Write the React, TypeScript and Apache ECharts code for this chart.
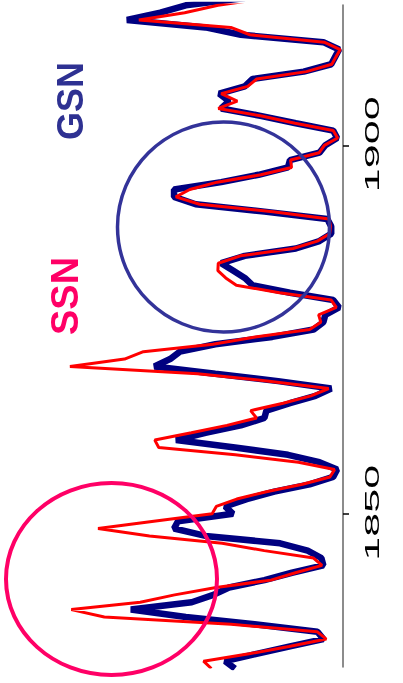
import { useEffect, useRef } from "react";
import * as echarts from "echarts";

// Yearly values, starting in 1829
const firstYear = 1829;
const ssnValues = [
  67.0, 71.0, 47.8, 27.5, 8.5, 13.2, 56.9, 121.5, 138.3, 103.2,
  85.7, 64.6, 36.7, 24.2, 10.7, 15.0, 40.1, 61.5, 98.5, 124.7,
  96.3, 66.6, 64.5, 54.1, 39.0, 20.6, 6.7, 4.3, 22.7, 54.8,
  93.8, 95.8, 77.2, 59.1, 44.0, 47.0, 30.5, 16.3, 7.3, 37.6,
  74.0, 139.0, 111.2, 101.6, 66.2, 44.7, 17.0, 11.3, 12.4, 3.4,
  6.0, 32.3, 54.3, 59.7, 63.7, 63.5, 52.2, 25.4, 13.1, 6.8,
  6.3, 7.1, 35.6, 73.0, 85.1, 78.0, 64.0, 41.8, 26.2, 26.7,
  12.1, 9.5, 2.7, 5.0, 24.4, 42.0, 63.5, 53.8, 62.0, 48.5,
  43.9, 18.6, 5.7, 3.6, 1.4, 9.6, 47.4, 57.1, 103.9, 80.6,
  63.6, 37.6,
];
const gsnValues = [
  55, 60, 44, 27, 10, 13, 45, 80, 108, 77,
  66, 58, 40, 26, 10, 11, 18, 32, 70, 86,
  84, 56, 60, 49, 35, 17, 5, 3, 12, 28,
  55, 85, 70, 52, 40, 39, 27, 14, 6, 33,
  65, 96, 88, 83, 65, 36, 15, 10, 9, 2,
  5, 27, 46, 50, 56, 62, 50, 24, 12, 6,
  6, 8, 40, 75, 86, 86, 62, 43, 28, 27,
  12, 9, 3, 5, 24, 42, 62, 58, 63, 50,
  46, 20, 6, 4, 2, 10, 52, 70, 110, 93,
  80, 50,
];
const yearTicks = [1850, 1900];
const seriesNames = ["GSN", "SSN"];

const FONT = "'Liberation Sans', Arial, Helvetica, sans-serif";

export default function App() {
  const ref = useRef<HTMLDivElement>(null);

  useEffect(() => {
    if (!ref.current) return;
    const chart = echarts.init(ref.current, null, { renderer: "svg" });
    const pairs = (arr: number[]) => arr.map((v, i) => [v, firstYear + i]);

    chart.setOption({
      animation: false,
      grid: { left: 0, right: 60, top: 5, bottom: 16 },
      xAxis: {
        type: "value",
        inverse: true,
        min: 0,
        max: 174.6,
        show: false,
        splitLine: { show: false },
      },
      yAxis: {
        type: "value",
        position: "right",
        min: 1829.21,
        max: 1919.04,
        axisLine: { show: true, onZero: false, lineStyle: { color: "#666", width: 1.5 } },
        axisTick: {
          show: true,
          customValues: yearTicks,
          length: 6,
          inside: false,
          lineStyle: { color: "#000", width: 1.5 },
        },
        axisLabel: { show: false },
        splitLine: { show: false },
      },
      series: [
        {
          type: "line",
          name: seriesNames[0],
          data: pairs(gsnValues),
          symbol: "none",
          lineStyle: { color: "#000080", width: 6.5 },
          z: 2,
        },
        {
          type: "line",
          name: seriesNames[1],
          data: pairs(ssnValues),
          symbol: "none",
          lineStyle: { color: "#FF0000", width: 3 },
          z: 3,
        },
      ],
    });

    const tickLabels = yearTicks.map((yr) => {
      const y = chart.convertToPixel({ yAxisIndex: 0 }, yr) as number;
      return {
        type: "text",
        x: 372,
        y: y - 1,
        rotation: Math.PI / 2,
        scaleX: 2.05,
        style: {
          text: String(yr),
          fontSize: 21,
          fontFamily: FONT,
          fill: "#000",
          align: "center",
          verticalAlign: "middle",
        },
        z: 10,
      };
    });

    chart.setOption({
      graphic: [
        ...tickLabels,
        {
          type: "text",
          x: 70,
          y: 101,
          rotation: Math.PI / 2,
          style: {
            text: seriesNames[0],
            fontSize: 36,
            fontWeight: "bold",
            fontFamily: FONT,
            fill: "#2E3192",
            align: "center",
            verticalAlign: "middle",
          },
          z: 10,
        },
        {
          type: "text",
          x: 65,
          y: 296,
          rotation: Math.PI / 2,
          style: {
            text: seriesNames[1],
            fontSize: 38,
            fontWeight: "bold",
            fontFamily: FONT,
            fill: "#FF0066",
            align: "center",
            verticalAlign: "middle",
          },
          z: 10,
        },
        {
          type: "ellipse",
          shape: { cx: 223.5, cy: 227, rx: 106, ry: 105 },
          style: { fill: "none", stroke: "#333399", lineWidth: 3.5 },
          z: 10,
        },
        {
          type: "ellipse",
          shape: { cx: 111.5, cy: 579, rx: 105.5, ry: 96 },
          style: { fill: "none", stroke: "#FF0066", lineWidth: 4 },
          z: 10,
        },
      ],
    });

    return () => chart.dispose();
  }, []);

  return (
    <div
      ref={ref}
      style={{ position: "fixed", left: 0, top: 0, width: 403, height: 683 }}
    />
  );
}
